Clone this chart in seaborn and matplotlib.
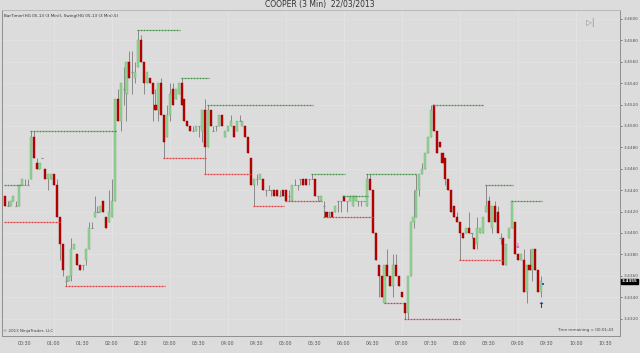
import numpy as np
import pandas as pd
import matplotlib
matplotlib.use("Agg")
import matplotlib.pyplot as plt
import matplotlib.transforms as mtransforms
import seaborn as sns

# ---------------- data (HG 05-13, 3 min bars) ----------------
opens = [
    3.4435, 3.4425, 3.4425, 3.4430, 3.4425, 3.4425, 3.4445, 3.4445, 3.4445, 3.4450,
    3.4490, 3.4465, 3.4460, 3.4470, 3.4460, 3.4450, 3.4450, 3.4455, 3.4445, 3.4415,
    3.4390, 3.4355, 3.4355, 3.4360, 3.4385, 3.4380, 3.4370, 3.4370, 3.4375, 3.4385,
    3.4405, 3.4415, 3.4420, 3.4420, 3.4430, 3.4415, 3.4410, 3.4415, 3.4430, 3.4525,
    3.4505, 3.4535, 3.4530, 3.4560, 3.4550, 3.4545, 3.4555, 3.4580, 3.4560, 3.4540,
    3.4545, 3.4540, 3.4520, 3.4515, 3.4540, 3.4510, 3.4490, 3.4510, 3.4535, 3.4525,
    3.4530, 3.4540, 3.4525, 3.4505, 3.4500, 3.4495, 3.4495, 3.4500, 3.4495, 3.4515,
    3.4480, 3.4515, 3.4495, 3.4500, 3.4500, 3.4510, 3.4490, 3.4495, 3.4500, 3.4500,
    3.4495, 3.4505, 3.4500, 3.4500, 3.4490, 3.4470, 3.4445, 3.4450, 3.4450, 3.4450,
    3.4440, 3.4440, 3.4440, 3.4440, 3.4440, 3.4435, 3.4440, 3.4440, 3.4435, 3.4430,
    3.4445, 3.4445, 3.4450, 3.4450, 3.4450, 3.4450, 3.4450, 3.4450, 3.4435, 3.4430,
    3.4425, 3.4420, 3.4420, 3.4420, 3.4420, 3.4430, 3.4430, 3.4435, 3.4430, 3.4430,
    3.4425, 3.4430, 3.4430, 3.4430, 3.4430, 3.4425, 3.4450, 3.4440, 3.4400, 3.4370,
    3.4360, 3.4335, 3.4370, 3.4360, 3.4350, 3.4370, 3.4360, 3.4345, 3.4335, 3.4325,
    3.4360, 3.4410, 3.4415, 3.4440, 3.4455, 3.4460, 3.4475, 3.4490, 3.4520, 3.4495,
    3.4485, 3.4475, 3.4470, 3.4450, 3.4440, 3.4425, 3.4415, 3.4410, 3.4400, 3.4400,
    3.4405, 3.4400, 3.4395, 3.4390, 3.4400, 3.4400, 3.4420, 3.4430, 3.4405, 3.4425,
    3.4420, 3.4395, 3.4395, 3.4370, 3.4395, 3.4405, 3.4410, 3.4380, 3.4375, 3.4375,
    3.4345, 3.4370, 3.4365, 3.4385, 3.4365, 3.4345,
]
highs = [
    3.4435, 3.4430, 3.4430, 3.4435, 3.4430, 3.4445, 3.4450, 3.4450, 3.4450, 3.4495,
    3.4495, 3.4470, 3.4465, 3.4470, 3.4460, 3.4455, 3.4455, 3.4455, 3.4450, 3.4415,
    3.4390, 3.4360, 3.4360, 3.4395, 3.4390, 3.4380, 3.4370, 3.4370, 3.4385, 3.4410,
    3.4410, 3.4435, 3.4425, 3.4425, 3.4430, 3.4415, 3.4440, 3.4450, 3.4525, 3.4535,
    3.4540, 3.4555, 3.4560, 3.4570, 3.4570, 3.4560, 3.4590, 3.4585, 3.4560, 3.4550,
    3.4545, 3.4540, 3.4535, 3.4540, 3.4545, 3.4510, 3.4520, 3.4540, 3.4540, 3.4535,
    3.4540, 3.4545, 3.4525, 3.4505, 3.4500, 3.4500, 3.4500, 3.4500, 3.4515, 3.4525,
    3.4520, 3.4515, 3.4500, 3.4500, 3.4510, 3.4510, 3.4495, 3.4500, 3.4510, 3.4500,
    3.4505, 3.4510, 3.4505, 3.4500, 3.4490, 3.4470, 3.4450, 3.4455, 3.4455, 3.4450,
    3.4440, 3.4445, 3.4440, 3.4440, 3.4440, 3.4440, 3.4440, 3.4440, 3.4440, 3.4445,
    3.4450, 3.4445, 3.4450, 3.4450, 3.4450, 3.4450, 3.4455, 3.4450, 3.4435, 3.4435,
    3.4430, 3.4420, 3.4420, 3.4420, 3.4425, 3.4430, 3.4430, 3.4435, 3.4430, 3.4435,
    3.4435, 3.4435, 3.4430, 3.4430, 3.4430, 3.4455, 3.4455, 3.4440, 3.4400, 3.4370,
    3.4360, 3.4370, 3.4385, 3.4360, 3.4380, 3.4380, 3.4360, 3.4345, 3.4335, 3.4360,
    3.4410, 3.4440, 3.4455, 3.4455, 3.4465, 3.4475, 3.4490, 3.4520, 3.4520, 3.4495,
    3.4485, 3.4475, 3.4470, 3.4450, 3.4440, 3.4425, 3.4420, 3.4410, 3.4400, 3.4405,
    3.4420, 3.4400, 3.4395, 3.4415, 3.4405, 3.4415, 3.4445, 3.4435, 3.4425, 3.4430,
    3.4425, 3.4400, 3.4395, 3.4390, 3.4405, 3.4430, 3.4410, 3.4380, 3.4380, 3.4385,
    3.4370, 3.4385, 3.4385, 3.4385, 3.4365, 3.4360,
]
lows = [
    3.4425, 3.4425, 3.4425, 3.4430, 3.4425, 3.4425, 3.4445, 3.4445, 3.4445, 3.4450,
    3.4470, 3.4460, 3.4460, 3.4470, 3.4450, 3.4440, 3.4450, 3.4445, 3.4415, 3.4375,
    3.4360, 3.4350, 3.4355, 3.4355, 3.4385, 3.4370, 3.4365, 3.4365, 3.4370, 3.4385,
    3.4405, 3.4415, 3.4420, 3.4420, 3.4420, 3.4405, 3.4410, 3.4415, 3.4430, 3.4505,
    3.4495, 3.4520, 3.4505, 3.4545, 3.4530, 3.4540, 3.4555, 3.4560, 3.4530, 3.4540,
    3.4540, 3.4505, 3.4515, 3.4505, 3.4510, 3.4470, 3.4490, 3.4505, 3.4520, 3.4525,
    3.4530, 3.4520, 3.4505, 3.4500, 3.4495, 3.4495, 3.4495, 3.4490, 3.4485, 3.4455,
    3.4480, 3.4500, 3.4495, 3.4495, 3.4500, 3.4500, 3.4490, 3.4495, 3.4500, 3.4490,
    3.4495, 3.4505, 3.4500, 3.4490, 3.4475, 3.4445, 3.4425, 3.4445, 3.4450, 3.4440,
    3.4435, 3.4440, 3.4435, 3.4435, 3.4435, 3.4435, 3.4435, 3.4430, 3.4430, 3.4430,
    3.4445, 3.4440, 3.4445, 3.4445, 3.4445, 3.4445, 3.4450, 3.4435, 3.4430, 3.4430,
    3.4415, 3.4415, 3.4415, 3.4415, 3.4420, 3.4420, 3.4420, 3.4430, 3.4420, 3.4430,
    3.4425, 3.4430, 3.4425, 3.4425, 3.4430, 3.4425, 3.4440, 3.4400, 3.4375, 3.4340,
    3.4340, 3.4335, 3.4360, 3.4350, 3.4340, 3.4360, 3.4350, 3.4340, 3.4320, 3.4320,
    3.4360, 3.4405, 3.4415, 3.4435, 3.4455, 3.4460, 3.4475, 3.4490, 3.4495, 3.4475,
    3.4480, 3.4465, 3.4445, 3.4440, 3.4420, 3.4415, 3.4410, 3.4375, 3.4395, 3.4400,
    3.4400, 3.4395, 3.4385, 3.4385, 3.4400, 3.4400, 3.4420, 3.4410, 3.4400, 3.4410,
    3.4400, 3.4390, 3.4370, 3.4370, 3.4395, 3.4405, 3.4380, 3.4375, 3.4375, 3.4345,
    3.4335, 3.4365, 3.4355, 3.4365, 3.4345, 3.4340,
]
closes = [
    3.4425, 3.4425, 3.4430, 3.4435, 3.4425, 3.4445, 3.4450, 3.4445, 3.4445, 3.4490,
    3.4470, 3.4460, 3.4465, 3.4470, 3.4450, 3.4455, 3.4455, 3.4445, 3.4415, 3.4390,
    3.4365, 3.4355, 3.4360, 3.4385, 3.4390, 3.4370, 3.4365, 3.4370, 3.4385, 3.4405,
    3.4405, 3.4420, 3.4420, 3.4425, 3.4420, 3.4405, 3.4420, 3.4430, 3.4525, 3.4505,
    3.4540, 3.4535, 3.4560, 3.4545, 3.4550, 3.4550, 3.4580, 3.4560, 3.4540, 3.4550,
    3.4540, 3.4530, 3.4515, 3.4540, 3.4510, 3.4485, 3.4510, 3.4530, 3.4520, 3.4535,
    3.4540, 3.4520, 3.4505, 3.4500, 3.4495, 3.4495, 3.4500, 3.4500, 3.4515, 3.4480,
    3.4515, 3.4500, 3.4495, 3.4500, 3.4510, 3.4500, 3.4495, 3.4500, 3.4505, 3.4490,
    3.4505, 3.4505, 3.4505, 3.4490, 3.4475, 3.4445, 3.4450, 3.4450, 3.4455, 3.4440,
    3.4440, 3.4440, 3.4440, 3.4435, 3.4435, 3.4435, 3.4435, 3.4430, 3.4435, 3.4445,
    3.4445, 3.4445, 3.4450, 3.4445, 3.4445, 3.4450, 3.4450, 3.4435, 3.4435, 3.4435,
    3.4425, 3.4415, 3.4420, 3.4415, 3.4425, 3.4430, 3.4430, 3.4430, 3.4430, 3.4435,
    3.4435, 3.4435, 3.4430, 3.4430, 3.4430, 3.4450, 3.4440, 3.4400, 3.4375, 3.4360,
    3.4340, 3.4370, 3.4360, 3.4350, 3.4370, 3.4360, 3.4350, 3.4340, 3.4325, 3.4360,
    3.4410, 3.4415, 3.4440, 3.4455, 3.4460, 3.4475, 3.4490, 3.4515, 3.4495, 3.4475,
    3.4480, 3.4465, 3.4450, 3.4440, 3.4420, 3.4415, 3.4410, 3.4400, 3.4395, 3.4405,
    3.4400, 3.4400, 3.4385, 3.4405, 3.4405, 3.4415, 3.4425, 3.4410, 3.4425, 3.4410,
    3.4400, 3.4395, 3.4370, 3.4390, 3.4405, 3.4430, 3.4380, 3.4375, 3.4380, 3.4345,
    3.4370, 3.4365, 3.4385, 3.4365, 3.4345, 3.4355,
]

# Swing(5) segments: first bar, last bar, price
swing_high_start = [1, 10, 47, 62, 71, 107, 118, 126, 149, 167, 176]
swing_high_end = [7, 39, 61, 71, 107, 118, 126, 143, 166, 176, 186]
swing_high_price = [3.4445, 3.4495, 3.4590, 3.4545, 3.4520, 3.4455, 3.4435, 3.4455, 3.4520, 3.4445, 3.4430]
swing_low_start = [1, 22, 56, 70, 87, 98, 111, 132, 139, 158]
swing_low_end = [20, 56, 70, 86, 97, 110, 128, 138, 158, 173]
swing_low_price = [3.4410, 3.4350, 3.4470, 3.4455, 3.4425, 3.4430, 3.4415, 3.4335, 3.4320, 3.4375]

first_bar_time = "2013-03-22 00:09"
time_labels = ["00:30", "01:00", "01:30", "02:00", "02:30", "03:00", "03:30",
               "04:00", "04:30", "05:00", "05:30", "06:00", "06:30", "07:00",
               "07:30", "08:00", "08:30", "09:00", "09:30", "10:00", "10:30"]
price_ticks = [3.4320, 3.4340, 3.4360, 3.4380, 3.4400, 3.4420, 3.4440, 3.4460,
               3.4480, 3.4500, 3.4520, 3.4540, 3.4560, 3.4580, 3.4600]
last_price = 3.4355

# ---------------- styling ----------------
sns.set_style("white")
plt.rcParams["font.family"] = ["DejaVu Sans"]

BG = "#dcdcdc"
UP = "#96d296"
UP_EDGE = "#6fae6f"
DOWN = "#c00000"
DOWN_EDGE = "#8c0000"
WICK = "#8a8a8a"

n = len(opens)
df = pd.DataFrame({"bar": np.arange(1, n + 1), "open": opens, "high": highs,
                   "low": lows, "close": closes})
df["time"] = pd.date_range(first_bar_time, periods=n, freq="3min")

fig = plt.figure(figsize=(6.4, 3.53), dpi=100, facecolor=BG)
ax = fig.add_axes([2 / 640, 17 / 353, 618 / 640, 326 / 353])
ax.set_facecolor(BG)

# grid
t0 = df["time"].iloc[0]
tick_pos = [(pd.Timestamp("2013-03-22 " + t) - t0) / pd.Timedelta("3min") + 1 for t in time_labels]
for xp, lab in zip(tick_pos, time_labels):
    if lab.endswith(":00"):
        ax.axvline(xp, color="#e4e4e4", lw=0.6, zorder=0)
for yp in price_ticks:
    ax.axhline(yp, color="#e2e2e2", lw=0.5, zorder=0)

# wicks
ax.vlines(df["bar"], df["low"], df["high"], color=WICK, lw=0.7, zorder=2)

up = df["close"] > df["open"]
dn = df["close"] < df["open"]
fl = ~(up | dn)
ax.bar(df["bar"][up], (df["close"] - df["open"])[up], bottom=df["open"][up],
       width=0.72, color=UP, edgecolor=UP_EDGE, linewidth=0.3, zorder=3)
ax.bar(df["bar"][dn], (df["open"] - df["close"])[dn], bottom=df["close"][dn],
       width=0.72, color=DOWN, edgecolor=DOWN_EDGE, linewidth=0.3, zorder=3)
ax.hlines(df["close"][fl], df["bar"][fl] - 0.36, df["bar"][fl] + 0.36,
          color=WICK, lw=0.8, zorder=3)

# swing lines
ax.hlines(swing_high_price, np.array(swing_high_start) - 0.3, np.array(swing_high_end) + 0.3,
          colors="#3f8f3f", linestyles=(0, (1.6, 0.8)), lw=0.9, zorder=4)
ax.hlines(swing_low_price, np.array(swing_low_start) - 0.3, np.array(swing_low_end) + 0.3,
          colors="#e03a3a", linestyles=(0, (1.6, 0.8)), lw=0.9, zorder=4)

# drawn objects
ax.text(178, 3.43875, "↓", color="#e020d0", fontsize=5, ha="center", va="center", zorder=5)
ax.text(186, 3.4332, "↑", color="#1030e0", fontsize=6, ha="center", va="center",
        fontweight="bold", zorder=5)
sns.scatterplot(x=[n + 0.6], y=[3.4352], color="#3050e0", s=4, marker="s",
                linewidth=0, ax=ax, zorder=5, legend=False)

# axes
ax.set_xlim(0.08, 213.2)
ax.set_ylim(3.43037, 3.46084)
ax.set_xticks(tick_pos)
ax.set_xticklabels(time_labels)
ax.set_yticks(price_ticks)
ax.set_yticklabels([f"{p:.4f}" for p in price_ticks])
ax.yaxis.tick_right()
ax.tick_params(axis="x", labelsize=3.4, colors="#555555", length=2, width=0.5, pad=1.5)
ax.tick_params(axis="y", labelsize=3.1, colors="#555555", length=1.5, width=0.5, pad=0.8)
ax.set_xlabel("")
ax.set_ylabel("")
for s in ["left", "bottom", "right", "top"]:
    ax.spines[s].set_visible(True)
    ax.spines[s].set_color("#8f8f8f")
    ax.spines[s].set_linewidth(0.7)
ax.spines["top"].set_color("#b8b8b8")

# last price marker
trans = mtransforms.blended_transform_factory(ax.transAxes, ax.transData)
ax.text(1.003, last_price, f"{last_price:.4f}", transform=trans, fontsize=3.0,
        color="white", va="center", ha="left", fontweight="bold",
        bbox=dict(boxstyle="square,pad=0.12", fc="black", ec="black"), zorder=6)

# texts
fig.text(0.5, 1 - 5 / 353, "COOPER (3 Min)  22/03/2013", ha="center", va="center",
         fontsize=5.5, color="#333333")
ax.text(0.004, 0.988, "BarTimer(HG 05-13 (3 Min)), Swing(HG 05-13 (3 Min),5)",
        transform=ax.transAxes, fontsize=3, color="#333333", va="top", ha="left")
ax.text(0.001, 0.008, "© 2013 NinjaTrader, LLC", transform=ax.transAxes,
        fontsize=3, color="#444444", va="bottom", ha="left")
ax.text(0.990, 0.012, "Time remaining = 00:01:43", transform=ax.transAxes,
        fontsize=3, color="#444444", va="bottom", ha="right")
ax.text(0.952, 0.975, "▷|", transform=ax.transAxes, fontsize=5.5, color="#8a8a8a",
        va="top", ha="center")

fig.savefig("out.png", dpi=100, facecolor=BG)
